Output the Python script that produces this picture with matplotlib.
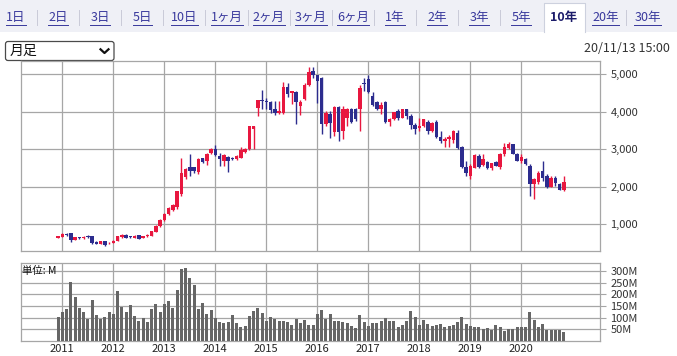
import numpy as np
import pandas as pd
import matplotlib
matplotlib.use('Agg')
import matplotlib.pyplot as plt
from matplotlib.patches import Rectangle, FancyBboxPatch

plt.rcParams['font.family'] = ['Noto Sans CJK JP', 'DejaVu Sans']

## Monthly candles, Dec 2010 .. Nov 2020
months = pd.period_range('2010-12', '2020-11', freq='M')

opens = [646, 672, 750, 761, 584, 655, 628, 681, 681, 540, 478, 557, 496,
         513, 566, 655, 725, 690, 637, 716, 646, 681, 690, 796, 955,
         1114, 1273, 1387, 1451, 1803, 2249, 2540, 2522, 2381, 2760, 2689, 2893,
         3000, 2822, 2689, 2805, 2760, 2734, 2779, 2928, 3000, 3547, 4104, 4306,
         4290, 4252, 4076, 3970, 3970, 4660, 4510, 4527, 4150, 4339, 4721, 5093,
         4968, 4899, 3662, 3926, 3468, 4129, 3486, 3838, 4076, 4076, 4059, 4766,
         4880, 4430, 4262, 4059, 4262, 3723, 3794, 4015, 3838, 4059, 3882, 3635,
         3574, 3618, 3727, 3480, 3727, 3321, 3215, 3260, 3259, 3436, 3060, 2530,
         2287, 2508, 2830, 2580, 2670, 2490, 2670, 2530, 2861, 3030, 3127, 2880,
         2690, 2729, 2550, 2066, 2140, 2419, 2300, 2000, 2240, 2070, 1910]
highs = [690, 761, 770, 780, 670, 665, 680, 705, 690, 555, 560, 560, 520,
         575, 690, 735, 745, 700, 705, 725, 700, 735, 830, 970, 1130,
         1290, 1450, 1530, 1900, 2776, 2513, 2884, 2540, 2779, 2780, 2911, 3030,
         3105, 2911, 2870, 2830, 2790, 2840, 3071, 3020, 3630, 3630, 4320, 4570,
         4360, 4280, 4280, 4280, 4790, 4770, 4560, 4550, 4300, 4770, 5190, 5200,
         4985, 4920, 4015, 4015, 4147, 4147, 4147, 4100, 4100, 4090, 4720, 4900,
         4985, 4527, 4280, 4262, 4280, 3838, 4000, 4059, 4080, 4076, 3926, 3706,
         3838, 3800, 3789, 3720, 3789, 3480, 3330, 3392, 3524, 3524, 3080, 2684,
         2596, 2861, 2861, 2861, 2684, 2640, 2684, 2905, 3171, 3180, 3150, 2905,
         2861, 2773, 2596, 2243, 2419, 2684, 2331, 2287, 2287, 2100, 2287]
lows = [640, 663, 698, 522, 575, 610, 620, 640, 480, 470, 470, 434, 487,
        505, 560, 640, 625, 645, 630, 610, 625, 672, 685, 790, 940,
        1100, 1260, 1350, 1420, 1760, 2200, 2290, 2380, 2330, 2640, 2575, 2880,
        2830, 2557, 2557, 2400, 2710, 2720, 2760, 2900, 2990, 3000, 3882, 4060,
        4060, 3970, 3920, 3950, 3950, 4380, 4200, 3662, 3900, 4300, 4680, 4900,
        4235, 3397, 3618, 3309, 3353, 3221, 3265, 3618, 3700, 3750, 3486, 4550,
        4500, 4147, 4040, 3926, 3706, 3618, 3780, 3780, 3820, 3794, 3530, 3397,
        3486, 3600, 3400, 3460, 3303, 3171, 3060, 3060, 3171, 3000, 2500, 2287,
        2198, 2490, 2508, 2552, 2463, 2450, 2552, 2463, 2817, 2994, 2861, 2684,
        2640, 2574, 1760, 1668, 2066, 2154, 1977, 1990, 2022, 1910, 1890]
closes = [681, 734, 725, 575, 655, 628, 672, 655, 496, 478, 549, 452, 513,
          566, 681, 725, 637, 655, 698, 619, 690, 725, 822, 955, 1114,
          1273, 1440, 1503, 1890, 2380, 2487, 2424, 2408, 2734, 2663, 2884, 3018,
          2840, 2734, 2840, 2689, 2734, 2822, 2981, 3000, 3617, 3617, 4306, 4280,
          4250, 4040, 3953, 4015, 4660, 4480, 4540, 4252, 4270, 4721, 5058, 4987,
          4809, 3662, 3972, 3706, 4129, 3468, 4059, 4076, 3723, 3794, 4633, 4739,
          4527, 4174, 4059, 4174, 3723, 3794, 3988, 3838, 4059, 3882, 3635, 3547,
          3618, 3794, 3480, 3701, 3321, 3215, 3270, 3320, 3480, 3038, 2530, 2375,
          2560, 2840, 2530, 2729, 2508, 2640, 2552, 2861, 3060, 3127, 2880, 2700,
          2790, 2596, 2066, 2198, 2375, 2243, 1990, 2240, 2090, 1910, 2130]
# volume, millions of shares
volume = [103, 124, 137, 253, 189, 143, 124, 96, 176, 111, 96, 101, 124,
          116, 214, 146, 124, 153, 107, 86, 100, 83, 137, 159, 124,
          159, 171, 143, 219, 310, 313, 270, 240, 137, 163, 116, 133,
          100, 83, 77, 83, 111, 77, 61, 66, 107, 129, 143, 120,
          86, 103, 94, 86, 86, 81, 70, 94, 77, 90, 69, 69,
          116, 133, 96, 116, 86, 86, 83, 77, 64, 56, 111, 81,
          64, 77, 77, 86, 100, 86, 86, 60, 69, 86, 129, 103,
          69, 90, 73, 64, 69, 73, 60, 64, 69, 81, 103, 73,
          64, 60, 60, 51, 56, 47, 69, 60, 43, 51, 51, 60,
          60, 60, 124, 90, 60, 73, 49, 49, 49, 47, 39]

price_ticks = [1000, 2000, 3000, 4000, 5000]
vol_ticks = [50, 100, 150, 200, 250, 300]
years = list(range(2011, 2021))

tabs = ['1日', '2日', '3日', '5日', '10日', '1ヶ月', '2ヶ月', '3ヶ月', '6ヶ月',
        '1年', '2年', '3年', '5年', '10年', '20年', '30年']
selected_tab = '10年'
date_text = '20/11/13 15:00'

RED = '#e8173f'
BLUE = '#2c2c8e'
GRID = '#a6a6a6'
W, H = 677, 356


def px_rect(x0, y0, x1, y1):
    return [x0 / W, 1 - y1 / H, (x1 - x0) / W, (y1 - y0) / H]


fig = plt.figure(figsize=(W / 100, H / 100), dpi=100)

## header strip: tabs, selector, timestamp
hdr = fig.add_axes([0, 0, 1, 1], zorder=-1)
hdr.set_xlim(0, W)
hdr.set_ylim(H, 0)
hdr.axis('off')
hdr.add_patch(Rectangle((0, 0), W, 32, facecolor='#eff0f6', edgecolor='none'))

step = 42.1
sel = tabs.index(selected_tab)
sx0, sx1 = 16 + step * sel - step / 2 + 2, 16 + step * sel + step / 2 + 1
hdr.add_patch(Rectangle((sx0, 3), sx1 - sx0, 30, facecolor='white', edgecolor='none'))
hdr.plot([sx0, sx0, sx1, sx1], [32, 3, 3, 32], color='#cdd1de', lw=0.8)

renderer = fig.canvas.get_renderer()
inv = hdr.transData.inverted()
for i, lab in enumerate(tabs):
    cx = 16 + step * i
    if i == sel:
        hdr.text(cx, 17, lab, ha='center', va='center', fontsize=9,
                 fontweight='bold', color='#1c1c6a')
        continue
    t = hdr.text(cx, 17, lab, ha='center', va='center', fontsize=9, color='#38389c')
    bb = t.get_window_extent(renderer)
    (x0, y0), (x1, y1) = inv.transform([[bb.x0, bb.y0], [bb.x1, bb.y1]])
    hdr.plot([x0, x1], [25, 25], color='#38389c', lw=0.7)
    if i + 1 < len(tabs) and i + 1 != sel:
        hdr.plot([cx + step / 2, cx + step / 2], [10, 25], color='#c9cad8', lw=0.7)

hdr.add_patch(FancyBboxPatch((5.5, 41.5), 108.5, 19, boxstyle='round,pad=0,rounding_size=2.5',
                             facecolor='white', edgecolor='#4a4a4a', lw=0.9))
hdr.text(10, 51, '月足', ha='left', va='center', fontsize=10, color='#111111')
hdr.plot([100.5, 104.5, 108.5], [49.3, 53, 49.3], color='#111111', lw=1.6)
hdr.text(670, 48, date_text, ha='right', va='center', fontsize=9, color='#333333')

## x positions: months since Jan 2011
xm = np.array([(p.year - 2011) * 12 + p.month - 1 for p in months])
year_x = [(y - 2011) * 12 for y in years]
xlim = (-9.72, 126.5)

o = np.array(opens)
h = np.array(highs)
l = np.array(lows)
c = np.array(closes)
colors = np.where(c >= o, RED, BLUE)

## price panel
ax = fig.add_axes(px_rect(21, 61, 600, 251))
ax.vlines(xm, l, h, colors=colors, lw=1.0, zorder=3)
ax.bar(xm, np.where(c - o == 0, 8, c - o), bottom=o, width=0.8, color=colors,
       linewidth=0, zorder=4)
ax.set_xlim(*xlim)
ax.set_ylim(290, 5350)
ax.set_xticks(year_x)
ax.set_yticks(price_ticks)
ax.set_yticklabels(['{:,}'.format(v) for v in price_ticks])
ax.yaxis.tick_right()
ax.grid(True, color=GRID, lw=0.9)
ax.set_axisbelow(True)
ax.tick_params(axis='x', length=0, labelbottom=False)
ax.tick_params(axis='y', length=4, width=0.8, color=GRID, pad=3.5,
               labelsize=8, labelcolor='#333333')
for s in ax.spines.values():
    s.set_color(GRID)
    s.set_linewidth(0.9)

## volume panel
axv = fig.add_axes(px_rect(21, 262.7, 600, 341))
axv.bar(xm, volume, width=0.7, color='#666666', linewidth=0, zorder=3)
axv.set_xlim(*xlim)
axv.set_ylim(0, 335)
axv.set_yticks(vol_ticks)
axv.set_yticklabels(['%dM' % v for v in vol_ticks])
axv.yaxis.tick_right()
axv.set_xticks(year_x)
axv.set_xticklabels([str(y) for y in years])
axv.grid(True, color=GRID, lw=0.9)
axv.set_axisbelow(True)
axv.tick_params(axis='x', length=0, pad=2.5, labelsize=8, labelcolor='#222222')
axv.tick_params(axis='y', length=4, width=0.8, color=GRID, pad=3.5,
                labelsize=8, labelcolor='#333333')
for s in axv.spines.values():
    s.set_color(GRID)
    s.set_linewidth(0.9)
fig.text(22.5 / W, 1 - 270.5 / H, '単位: M', ha='left', va='center', fontsize=7.5,
         color='#111111')

fig.savefig('out.png', dpi=100)
